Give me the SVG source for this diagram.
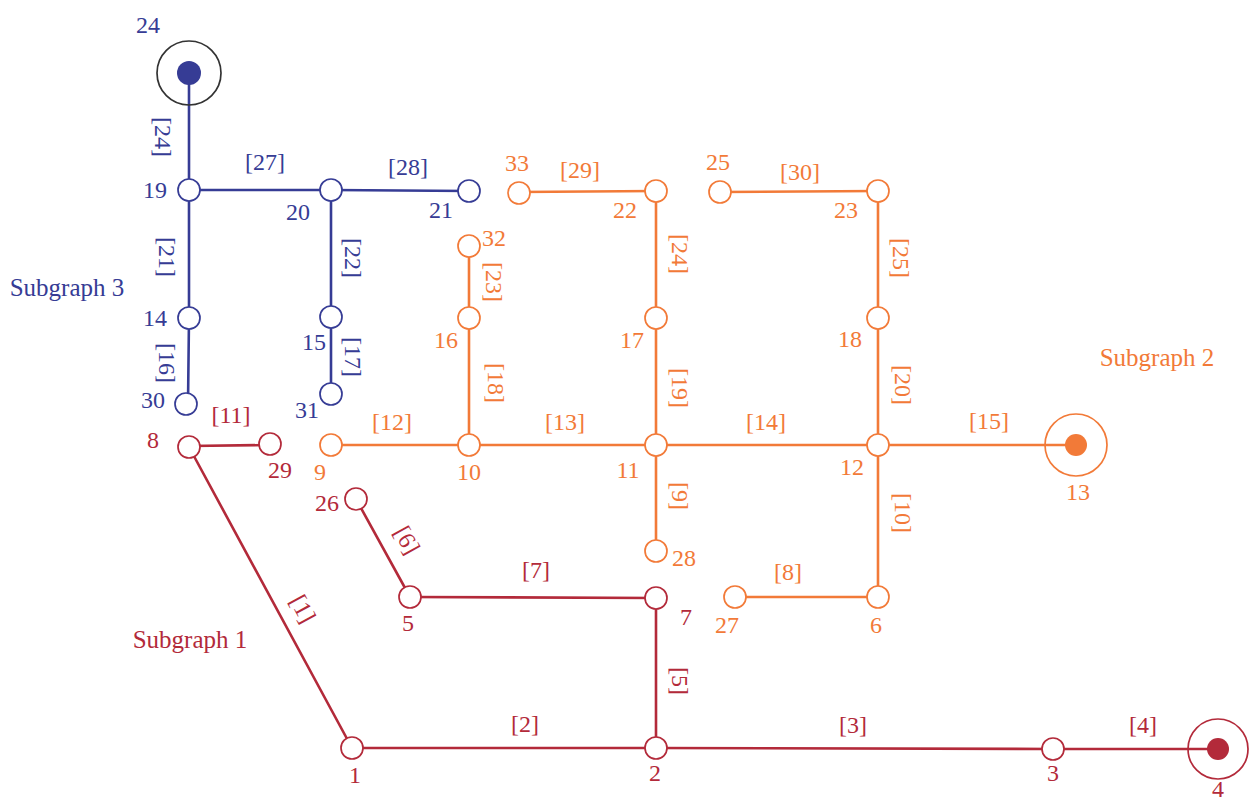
<svg xmlns="http://www.w3.org/2000/svg" width="1251" height="802" viewBox="0 0 1251 802">
<style>
text{font-family:"Liberation Serif","Times New Roman",serif;font-size:24px;text-anchor:middle}
.sg{font-size:25px}
.e{fill:none;stroke-width:2.6;stroke-linecap:round}
.n{fill:#fff;stroke-width:1.7}
.b{stroke:#363c95}.bt{fill:#363c95}
.o{stroke:#f27a38}.ot{fill:#f27a38}
.r{stroke:#b32a3a}.rt{fill:#b32a3a}
</style>
<rect width="1251" height="802" fill="#fff"/>
<g id="connectors">
<g class="e b">
<line x1="189" y1="73" x2="189" y2="190"/>
<line x1="189" y1="190" x2="331" y2="190"/>
<line x1="331" y1="190" x2="469" y2="191"/>
<line x1="189" y1="190" x2="189" y2="318"/>
<line x1="189" y1="318" x2="188" y2="404"/>
<line x1="331" y1="190" x2="331" y2="317"/>
<line x1="331" y1="317" x2="331" y2="394"/>
</g>
<g class="e o">
<line x1="519" y1="192" x2="656" y2="191"/>
<line x1="656" y1="191" x2="656" y2="318"/>
<line x1="656" y1="318" x2="656" y2="445"/>
<line x1="720" y1="192" x2="878" y2="191"/>
<line x1="878" y1="191" x2="878" y2="318"/>
<line x1="878" y1="318" x2="878" y2="445"/>
<line x1="469" y1="246" x2="469" y2="318"/>
<line x1="469" y1="318" x2="469" y2="445"/>
<line x1="331" y1="445" x2="469" y2="445"/>
<line x1="469" y1="445" x2="656" y2="445"/>
<line x1="656" y1="445" x2="878" y2="445"/>
<line x1="878" y1="445" x2="1076" y2="445"/>
<line x1="656" y1="445" x2="656" y2="551"/>
<line x1="878" y1="445" x2="878" y2="597"/>
<line x1="735" y1="597" x2="878" y2="597"/>
</g>
<g class="e r">
<line x1="189" y1="446" x2="270" y2="445"/>
<line x1="189" y1="447" x2="352" y2="748"/>
<line x1="356" y1="499" x2="410" y2="597"/>
<line x1="410" y1="597" x2="656" y2="598"/>
<line x1="656" y1="598" x2="656" y2="748"/>
<line x1="352" y1="748" x2="656" y2="748"/>
<line x1="656" y1="748" x2="1053" y2="749"/>
<line x1="1053" y1="749" x2="1218" y2="749"/>
</g>
<g id="edge-labels">
<g class="bt">
<text transform="translate(163,137) rotate(90)" y="8">[24]</text>
<text x="265" y="170">[27]</text>
<text x="408" y="175">[28]</text>
<text transform="translate(167,257) rotate(90)" y="8">[21]</text>
<text transform="translate(167,363) rotate(90)" y="8">[16]</text>
<text transform="translate(353,258) rotate(90)" y="8">[22]</text>
<text transform="translate(353,357) rotate(90)" y="8">[17]</text>
</g>
<g class="ot">
<text x="580" y="178">[29]</text>
<text x="800" y="180">[30]</text>
<text transform="translate(494,282) rotate(90)" y="8">[23]</text>
<text transform="translate(496,383) rotate(90)" y="8">[18]</text>
<text transform="translate(680,254) rotate(90)" y="8">[24]</text>
<text transform="translate(680,388) rotate(90)" y="8">[19]</text>
<text transform="translate(901,258) rotate(90)" y="8">[25]</text>
<text transform="translate(903,385) rotate(90)" y="8">[20]</text>
<text x="392" y="430">[12]</text>
<text x="565" y="430">[13]</text>
<text x="766" y="430">[14]</text>
<text x="989" y="429">[15]</text>
<text transform="translate(680,496) rotate(90)" y="8">[9]</text>
<text transform="translate(903,513) rotate(90)" y="8">[10]</text>
<text x="788" y="580">[8]</text>
</g>
<g class="rt">
<text x="231" y="423">[11]</text>
<text transform="translate(303,609) rotate(61.5)" y="8">[1]</text>
<text transform="translate(407,540) rotate(61)" y="8">[6]</text>
<text x="536" y="578">[7]</text>
<text transform="translate(680,681) rotate(90)" y="8">[5]</text>
<text x="525" y="732">[2]</text>
<text x="853" y="733">[3]</text>
<text x="1143" y="733">[4]</text>
</g>
</g>
</g>
<g id="n24"><circle cx="189" cy="73" r="32" fill="none" stroke="#333" stroke-width="1.7"/><circle cx="189" cy="73" r="12" class="bt"/><text class="bt" x="148" y="33">24</text></g>
<g id="n19"><circle class="n b" cx="189" cy="190" r="11"/><text class="bt" x="155" y="198">19</text></g>
<g id="n20"><circle class="n b" cx="331" cy="190" r="11"/><text class="bt" x="298" y="220">20</text></g>
<g id="n21"><circle class="n b" cx="469" cy="191" r="11"/><text class="bt" x="441" y="218">21</text></g>
<g id="n14"><circle class="n b" cx="189" cy="318" r="11"/><text class="bt" x="155" y="326">14</text></g>
<g id="n15"><circle class="n b" cx="331" cy="317" r="11"/><text class="bt" x="314" y="350">15</text></g>
<g id="n30"><circle class="n b" cx="186" cy="404" r="11"/><text class="bt" x="153" y="408">30</text></g>
<g id="n31"><circle class="n b" cx="331" cy="394" r="11"/><text class="bt" x="307" y="418">31</text></g>
<g id="n33"><circle class="n o" cx="519" cy="193" r="11"/><text class="ot" x="517" y="171">33</text></g>
<g id="n22"><circle class="n o" cx="656" cy="191" r="11"/><text class="ot" x="625" y="218">22</text></g>
<g id="n25"><circle class="n o" cx="720" cy="192" r="11"/><text class="ot" x="718" y="170">25</text></g>
<g id="n23"><circle class="n o" cx="878" cy="191" r="11"/><text class="ot" x="846" y="218">23</text></g>
<g id="n32"><circle class="n o" cx="469" cy="246" r="11"/><text class="ot" x="494" y="246">32</text></g>
<g id="n16"><circle class="n o" cx="469" cy="318" r="11"/><text class="ot" x="446" y="348">16</text></g>
<g id="n17"><circle class="n o" cx="656" cy="318" r="11"/><text class="ot" x="632" y="348">17</text></g>
<g id="n18"><circle class="n o" cx="878" cy="318" r="11"/><text class="ot" x="850" y="347">18</text></g>
<g id="n9"><circle class="n o" cx="331" cy="445" r="11"/><text class="ot" x="320" y="480">9</text></g>
<g id="n10"><circle class="n o" cx="469" cy="445" r="11"/><text class="ot" x="469" y="480">10</text></g>
<g id="n11"><circle class="n o" cx="656" cy="445" r="11"/><text class="ot" x="628" y="478">11</text></g>
<g id="n12"><circle class="n o" cx="878" cy="445" r="11"/><text class="ot" x="852" y="475">12</text></g>
<g id="n13"><circle cx="1076" cy="445" r="31" fill="none" class="o" stroke-width="1.7"/><circle cx="1076" cy="445" r="11" class="ot"/><text class="ot" x="1078" y="500">13</text></g>
<g id="n28"><circle class="n o" cx="656" cy="551" r="11"/><text class="ot" x="684" y="566">28</text></g>
<g id="n27"><circle class="n o" cx="735" cy="597" r="11"/><text class="ot" x="727" y="633">27</text></g>
<g id="n6"><circle class="n o" cx="878" cy="597" r="11"/><text class="ot" x="876" y="633">6</text></g>
<g id="n8"><circle class="n r" cx="189" cy="447" r="11"/><text class="rt" x="153" y="448">8</text></g>
<g id="n29"><circle class="n r" cx="270" cy="444" r="11"/><text class="rt" x="280" y="478">29</text></g>
<g id="n26"><circle class="n r" cx="356" cy="499" r="11"/><text class="rt" x="327" y="511">26</text></g>
<g id="n5"><circle class="n r" cx="410" cy="597" r="11"/><text class="rt" x="408" y="631">5</text></g>
<g id="n7"><circle class="n r" cx="656" cy="598" r="11"/><text class="rt" x="686" y="625">7</text></g>
<g id="n1"><circle class="n r" cx="352" cy="748" r="11"/><text class="rt" x="355" y="783">1</text></g>
<g id="n2"><circle class="n r" cx="656" cy="748" r="11"/><text class="rt" x="655" y="781">2</text></g>
<g id="n3"><circle class="n r" cx="1053" cy="749" r="11"/><text class="rt" x="1053" y="781">3</text></g>
<g id="n4"><circle cx="1218" cy="749" r="30" fill="none" class="r" stroke-width="1.7"/><circle cx="1218" cy="749" r="11" class="rt"/><text class="rt" x="1218" y="797">4</text></g>
<text class="bt sg" x="67" y="296">Subgraph 3</text>
<text class="ot sg" x="1157" y="366">Subgraph 2</text>
<text class="rt sg" x="190" y="648">Subgraph 1</text>
</svg>
